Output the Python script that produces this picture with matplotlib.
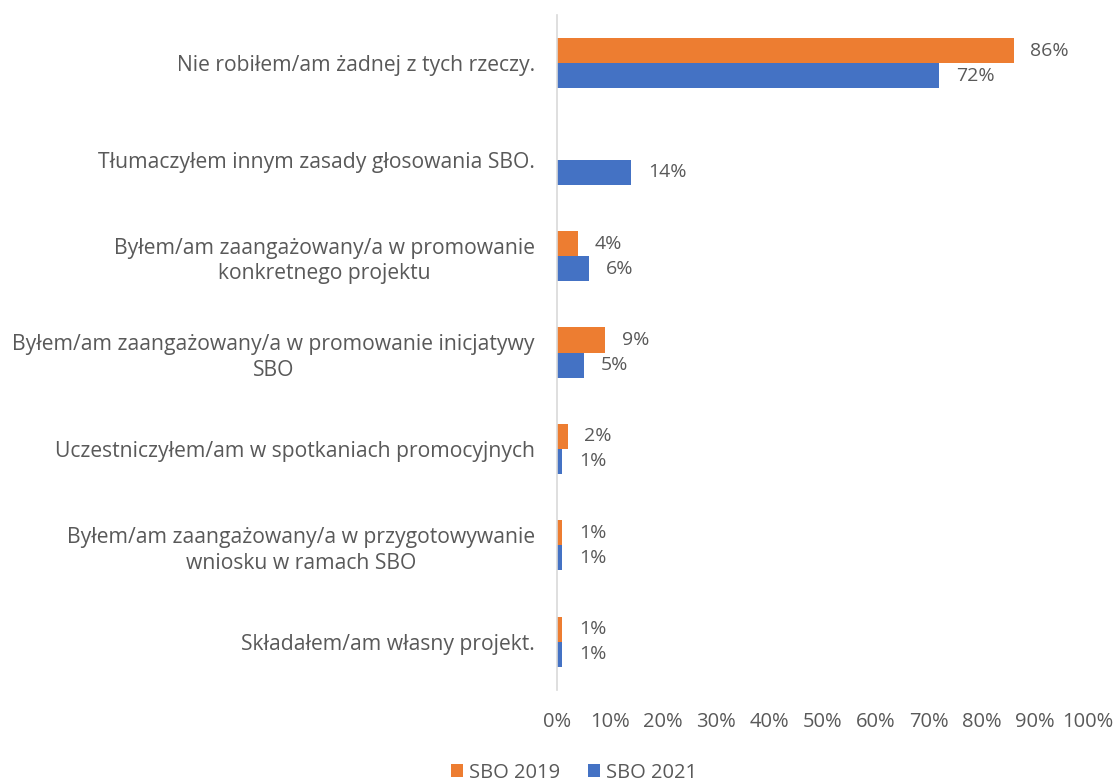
import numpy as np
import matplotlib.pyplot as plt
from matplotlib.ticker import PercentFormatter

categories = [
    "Nie robiłem/am żadnej z tych rzeczy.",
    "Tłumaczyłem innym zasady głosowania SBO.",
    "Byłem/am zaangażowany/a w promowanie\nkonkretnego projektu",
    "Byłem/am zaangażowany/a w promowanie inicjatywy\nSBO",
    "Uczestniczyłem/am w spotkaniach promocyjnych",
    "Byłem/am zaangażowany/a w przygotowywanie\nwniosku w ramach SBO",
    "Składałem/am własny projekt.",
]
sbo_2019 = [86, np.nan, 4, 9, 2, 1, 1]
sbo_2021 = [72, 14, 6, 5, 1, 1, 1]
series_names = ["SBO 2019", "SBO 2021"]
colors = ["#ED7D31", "#4472C4"]

plt.rcParams['font.family'] = ['Open Sans', 'DejaVu Sans']
txt = "#595959"

fig = plt.figure(figsize=(11.17, 7.83), dpi=100)
ax = fig.add_axes([0.4987, 0.1188, 0.4754, 0.862])

y = np.arange(len(categories))
h = 0.26
for vals, off, name, c in zip([sbo_2019, sbo_2021], [-h / 2, h / 2], series_names, colors):
    bars = ax.barh(y + off, vals, height=h, color=c, label=name)
    for b, v in zip(bars, vals):
        if np.isnan(v):
            continue
        ax.annotate(f"{v:.0f}%", (b.get_width(), b.get_y() + b.get_height() / 2),
                    xytext=(12, 0), textcoords="offset points",
                    va="center", ha="left", fontsize=14, color=txt)

ax.set_xlim(0, 100)
ax.set_ylim(len(categories) - 0.5, -0.5)
ax.set_yticks(y)
ax.set_yticklabels(categories, fontsize=15.2, color=txt, ha="right",
                   multialignment="center", linespacing=1.3)
ax.set_xticks(np.arange(0, 101, 10))
ax.xaxis.set_major_formatter(PercentFormatter(decimals=0))
ax.tick_params(axis="x", labelsize=14.5, labelcolor=txt, length=0, pad=16)
ax.tick_params(axis="y", length=0, pad=16)
for s in ["top", "right", "bottom"]:
    ax.spines[s].set_visible(False)
ax.spines["left"].set_color("#D9D9D9")
ax.spines["left"].set_linewidth(1.2)

fig.legend(loc="center", bbox_to_anchor=(0.514, 0.013), ncol=2, frameon=False,
           fontsize=14.5, handlelength=0.6, handleheight=0.6, handletextpad=0.3,
           columnspacing=1.4, labelcolor=txt)

fig.savefig("out.png", dpi=100)
